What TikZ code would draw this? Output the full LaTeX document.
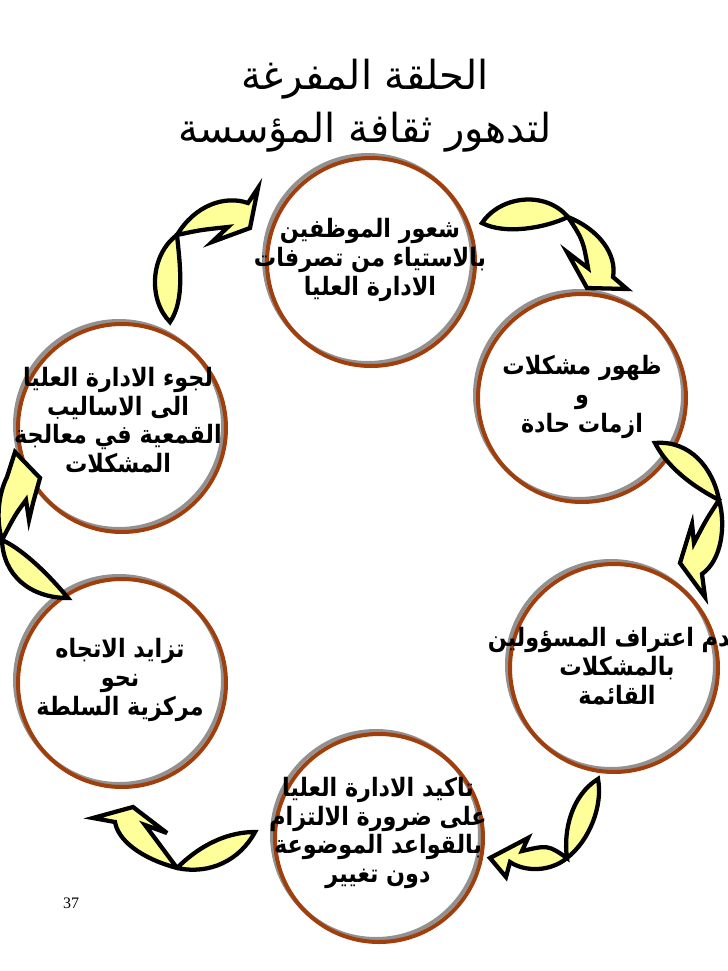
\documentclass[tikz,border=0pt]{standalone}
\usepackage{fontspec}
\setmainfont{Liberation Serif}
\TeXXeTstate=1
\newfontfamily\arabicfont[Script=Arabic]{DejaVu Sans}
\newfontfamily\arabicbody[Script=Arabic, FakeStretch=0.88]{DejaVu Sans}
\definecolor{ringbrown}{RGB}{160,62,12}
\definecolor{ringgray}{RGB}{145,145,145}
\definecolor{arrowyellow}{RGB}{255,255,153}
\newcommand{\AR}[1]{\beginR #1\endR}
\begin{document}
\begin{tikzpicture}[x=0.75pt,y=-0.75pt,
  ring/.style={circle, draw=ringbrown, line width=3pt, minimum size=156pt, inner sep=0pt,
    preaction={draw=ringgray, line width=3pt, transform canvas={shift={(-3,-3)}}}},
  txt/.style={font=\arabicbody\bfseries\fontsize{19}{21.5}\selectfont, align=center, inner sep=0pt},
  ttl/.style={font=\arabicfont\fontsize{30}{40}\selectfont, align=center, inner sep=0pt},
  yarrow/.style={draw=black, fill=arrowyellow, line width=3.2pt, line join=miter, miter limit=6}]
\path[use as bounding box] (0,0) rectangle (728,971);

% title
\node[ttl] (title) at (365,106) {\AR{الحلقة المفرغة}\\\AR{لتدهور ثقافة المؤسسة}};

% circles
\node[ring] (c1) at (371,262) {};
\node[ring] (c2) at (582,398) {};
\node[ring] (c3) at (122,428) {};
\node[ring] (c4) at (614,668) {};
\node[ring] (c5) at (122,683) {};
\node[ring] (c6) at (379,838) {};

% arrows
% A: c3 -> c1
\draw[yarrow] (170,322) .. controls (148,300) and (150,255) .. (177,235)
  .. controls (195,205) and (225,195) .. (248,203) -- (258,188) -- (250,228) -- (212,242) -- (228,227)
  .. controls (200,230) .. (177,235) .. controls (180,265) and (185,300) .. cycle;
% B: c1 -> c2
\draw[yarrow] (482,223) .. controls (500,196) and (545,190) .. (568,217)
  .. controls (600,230) and (617,255) .. (613,277) -- (627,289) -- (587,288) -- (567,252) -- (588,268)
  .. controls (583,240) .. (568,217) .. controls (545,228) and (505,235) .. cycle;
% C: c2 -> c4
\draw[yarrow] (655,443) .. controls (690,440) and (713,468) .. (719,500)
  .. controls (726,525) and (722,560) .. (702,574) -- (705,597) -- (680,563) -- (692,524) -- (694,543)
  .. controls (706,520) .. (719,500) .. controls (700,490) and (670,472) .. cycle;
% D: c4 -> c6
\draw[yarrow] (598,779) .. controls (603,805) and (590,840) .. (567,858)
  .. controls (550,872) and (525,872) .. (510,862) -- (506,877) -- (490,858) -- (528,838) -- (522,851)
  .. controls (548,845) .. (567,858) .. controls (563,830) and (572,795) .. cycle;
% E: c6 -> c5
\draw[yarrow] (255,832) .. controls (222,832) and (195,850) .. (177,868)
  .. controls (140,858) and (118,840) .. (115,822) -- (93,818) -- (133,807) -- (167,833) -- (145,825)
  .. controls (160,845) .. (177,868) .. controls (210,875) and (240,860) .. cycle;
% F: c5 -> c3
\draw[yarrow] (68,598) .. controls (45,570) and (20,548) .. (2,540)
  .. controls (-4,520) and (-2,495) .. (7,477) -- (15,452) -- (40,478) -- (33,503) -- (29,520) -- (26,500)
  .. controls (15,515) .. (2,540) .. controls (3,575) and (30,598) .. cycle;

% texts
\node[txt] (t1) at (370,260) {\AR{شعور الموظفين}\\\AR{بالاستياء من تصرفات}\\\AR{الادارة العليا}};
\node[txt] (t2) at (582,397) {\AR{ظهور مشكلات}\\\AR{و}\\\AR{ازمات حادة}};
\node[txt] (t3) at (118,420) {\AR{لجوء الادارة العليا}\\\AR{الى الاساليب}\\\AR{القمعية في معالجة}\\\AR{المشكلات}};
\node[txt] (t4) at (617,666) {\AR{عدم اعتراف المسؤولين}\\\AR{بالمشكلات}\\\AR{القائمة}};
\node[txt] (t5) at (120,680) {\AR{تزايد الاتجاه}\\\AR{نحو}\\\AR{مركزية السلطة}};
\node[txt] (t6) at (378,833) {\AR{تاكيد الادارة العليا}\\\AR{على ضرورة الالتزام}\\\AR{بالقواعد الموضوعة}\\\AR{دون تغيير}};

\node[font=\fontsize{12}{14}\selectfont, inner sep=0pt] (pg) at (71,903) {37};
\end{tikzpicture}
\end{document}
